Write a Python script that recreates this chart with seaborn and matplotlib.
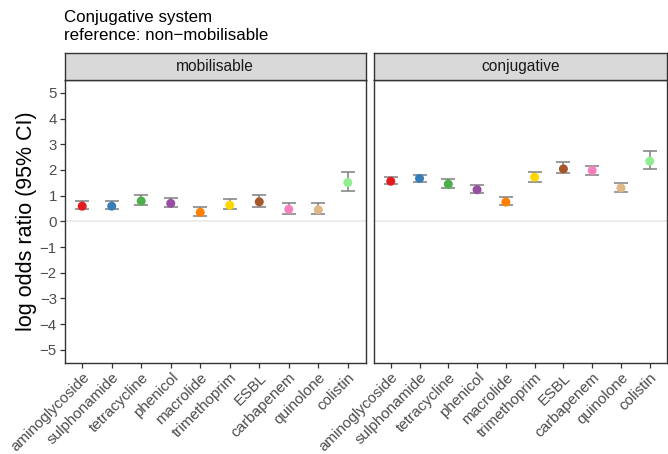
import matplotlib
matplotlib.use("Agg")
import matplotlib.pyplot as plt
import seaborn as sns
import pandas as pd

categories = ["aminoglycoside", "sulphonamide", "tetracycline", "phenicol", "macrolide",
              "trimethoprim", "ESBL", "carbapenem", "quinolone", "colistin"]
colors = ["#E41A1C", "#377EB8", "#4DAF4A", "#984EA3", "#FF7F00",
          "#FFD700", "#A65628", "#F781BF", "#DEB887", "#90EE90"]
panels = ["mobilisable", "conjugative"]

mob_est = [0.59, 0.59, 0.79, 0.70, 0.35, 0.63, 0.76, 0.47, 0.45, 1.51]
mob_low = [0.49, 0.47, 0.65, 0.54, 0.19, 0.48, 0.54, 0.30, 0.27, 1.17]
mob_high = [0.79, 0.80, 1.01, 0.90, 0.55, 0.88, 1.02, 0.71, 0.71, 1.93]

con_est = [1.56, 1.67, 1.45, 1.23, 0.75, 1.72, 2.04, 1.98, 1.30, 2.34]
con_low = [1.46, 1.54, 1.29, 1.09, 0.62, 1.55, 1.87, 1.82, 1.15, 2.03]
con_high = [1.72, 1.82, 1.64, 1.42, 0.96, 1.91, 2.29, 2.17, 1.51, 2.72]

title = "Conjugative system\nreference: non\u2212mobilisable"
ylabel = "log odds ratio (95% CI)"
yticks = [-5, -4, -3, -2, -1, 0, 1, 2, 3, 4, 5]

sns.set_theme(style="white")
plt.rcParams["font.family"] = ["Liberation Sans", "DejaVu Sans"]
plt.rcParams["axes.unicode_minus"] = True

df = pd.concat([
    pd.DataFrame({"panel": panels[0], "cls": categories, "est": mob_est, "low": mob_low, "high": mob_high}),
    pd.DataFrame({"panel": panels[1], "cls": categories, "est": con_est, "low": con_low, "high": con_high}),
])

W, H = 668, 454
fig = plt.figure(figsize=(W / 100, H / 100), dpi=100)
top_px, bot_px = 80, 362.7
strip_h = 26.7
lefts = [(64.5, 365.5), (373.5, 667.0)]
border = "#333333"
tickcol = "#4D4D4D"
pal = dict(zip(categories, colors))

for i, (panel, (l, r)) in enumerate(zip(panels, lefts)):
    ax = fig.add_axes([l / W, 1 - bot_px / H, (r - l) / W, (bot_px - top_px) / H])
    sub = df[df.panel == panel]
    ax.axhline(0, color="#EBEBEB", lw=1.3, zorder=0)
    ax.errorbar(sub["cls"], sub["est"],
                yerr=[sub["est"] - sub["low"], sub["high"] - sub["est"]],
                fmt="none", ecolor="#7F7F7F", elinewidth=1.1, capsize=5.2, capthick=1.1, zorder=2)
    sns.scatterplot(data=sub, x="cls", y="est", hue="cls", palette=pal, s=42,
                    edgecolor="none", legend=False, ax=ax, zorder=3)
    ax.set_xlim(-0.6, 9.6)
    ax.set_ylim(-5.5, 5.5)
    ax.set_xlabel("")
    ax.set_ylabel("")
    for sp in ax.spines.values():
        sp.set_color(border)
        sp.set_linewidth(1.0)
    ax.set_xticks(range(len(categories)))
    ax.set_xticklabels(categories, rotation=45, ha="right", va="top",
                       rotation_mode="anchor", fontsize=11, color=tickcol)
    ax.tick_params(axis="x", bottom=True, length=3.5, width=0.9, color=border, pad=2)
    if i == 0:
        ax.set_yticks(yticks)
        ax.set_yticklabels([str(t).replace("-", "\u2212") for t in yticks], fontsize=10.8, color=tickcol)
        ax.tick_params(axis="y", left=True, length=3.5, width=0.9, color=border, pad=2)
        ax.set_ylabel(ylabel, fontsize=15.5, color="black", labelpad=2)
    else:
        ax.set_yticks(yticks)
        ax.set_yticklabels([])
        ax.tick_params(axis="y", left=False)
    # strip
    sax = fig.add_axes([l / W, 1 - top_px / H, (r - l) / W, strip_h / H])
    sax.set_facecolor("#D9D9D9")
    sax.set_xticks([])
    sax.set_yticks([])
    for sp in sax.spines.values():
        sp.set_color(border)
        sp.set_linewidth(1.0)
    sax.text(0.5, 0.5, panel, ha="center", va="center", fontsize=11.2, color="#1A1A1A",
             transform=sax.transAxes)

fig.text(64.5 / W, 1 - 10 / H, title, ha="left", va="top", fontsize=12.2, color="black",
         linespacing=1.25)

fig.savefig("out.png", dpi=100)
